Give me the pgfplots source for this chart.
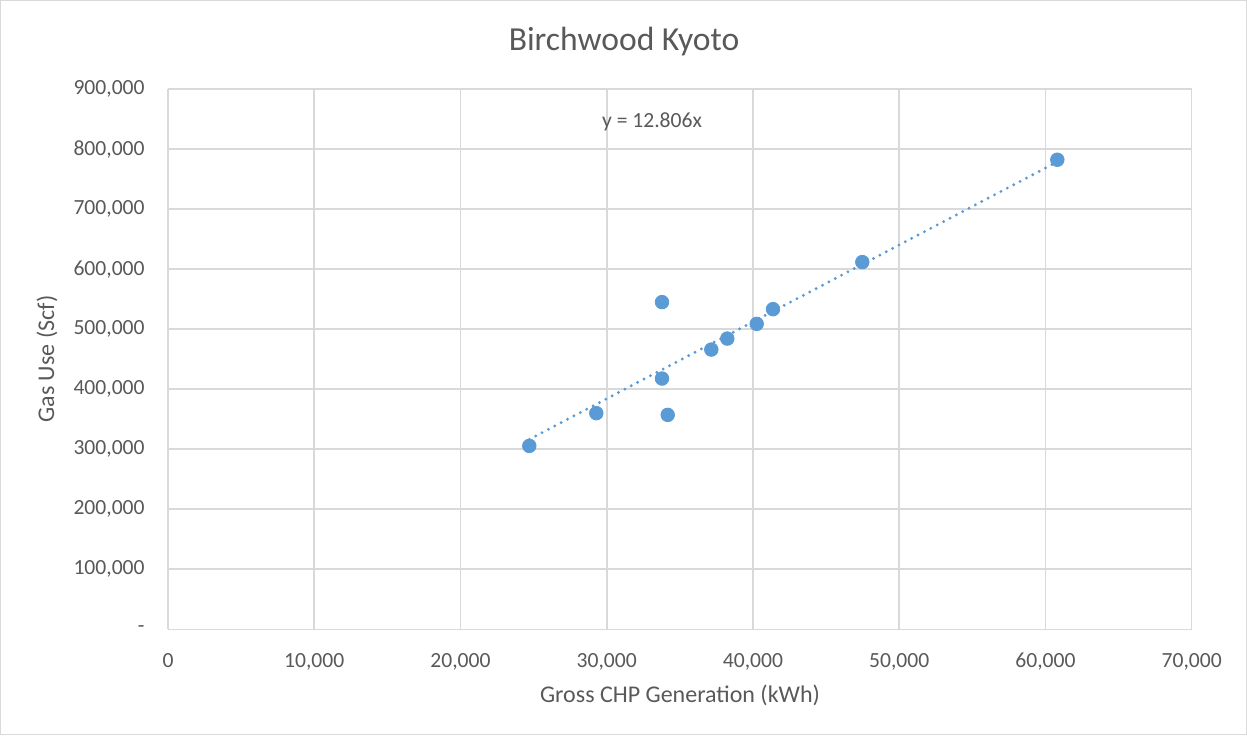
\documentclass[border=0pt]{standalone}
\usepackage{pgfplots}
\pgfplotsset{compat=1.18}
\usepackage{fontspec}
\setmainfont{Carlito}
\definecolor{txt}{HTML}{595959}
\definecolor{grd}{HTML}{D9D9D9}
\definecolor{ser}{HTML}{5B9BD5}
\begin{document}
\begin{tikzpicture}
\useasboundingbox (0,0) rectangle (623.5pt,367.5pt);
\draw[grd, line width=0.6pt] (0.4pt,0.4pt) rectangle (623.1pt,367.1pt);
\begin{axis}[
  at={(84pt,52.85pt)}, anchor=south west,
  scale only axis, width=511.85pt, height=270.15pt,
  xmin=0, xmax=70000, ymin=0, ymax=900000,
  xtick={0,10000,...,70000},
  xticklabels={0,{10,000},{20,000},{30,000},{40,000},{50,000},{60,000},{70,000}},
  ytick={0,100000,...,900000},
  yticklabels={{-\hspace{4.5pt}},{100,000},{200,000},{300,000},{400,000},{500,000},{600,000},{700,000},{800,000},{900,000}},
  scaled ticks=false,
  major tick length=0pt,
  axis line style={draw=none},
  grid=major,
  major grid style={grd, line width=0.8pt},
  tick label style={text=txt, font=\fontsize{10.8}{13}\selectfont},
  xticklabel style={anchor=north, inner sep=0pt, yshift=-11.8pt},
  yticklabel style={anchor=east, inner sep=0pt, xshift=-11.5pt},
  clip=false,
]
\addplot[only marks, mark=*, mark size=3.4pt, mark options={fill=ser, draw=ser}] coordinates {
  (24706,305500) (29287,360000) (33780,545000) (33780,417700) (34170,357200)
  (37151,466000) (38245,484300) (40256,508800) (41370,533300) (47477,611700)
  (60811,782200)
};
\addplot[ser, line width=1.6pt, line cap=round, dash pattern=on 0pt off 3.6pt] coordinates {
  (24706,316385) (60811,778745)
};
\end{axis}
\node[text=txt, font=\fontsize{16.8}{20}\selectfont] at (312pt,346.5pt) {Birchwood Kyoto};
\node[text=txt, font=\fontsize{12}{14}\selectfont] at (340pt,20pt) {Gross CHP Generation (kWh)};
\node[text=txt, font=\fontsize{12}{14}\selectfont, rotate=90] at (23.5pt,188pt) {Gas Use (Scf)};
\node[text=txt, font=\fontsize{10.8}{13}\selectfont] at (326pt,306.6pt) {y = 12.806x};
\end{tikzpicture}
\end{document}
